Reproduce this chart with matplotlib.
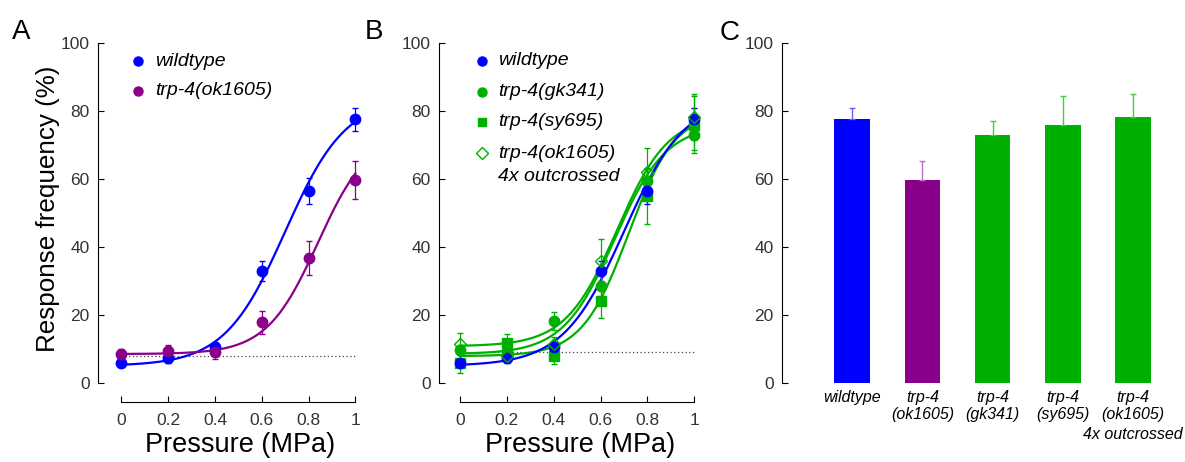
import numpy as np
import matplotlib.pyplot as plt
import matplotlib.transforms as mtransforms

plt.rcParams['font.family'] = ['Liberation Sans', 'DejaVu Sans']

# pressure steps (MPa)
pressure = [0, 0.2, 0.4, 0.6, 0.8, 1.0]

# response frequency (%) and SEM
wt = [5.8, 7.3, 10.5, 33.0, 56.5, 77.5]
wt_err = [1.0, 1.5, 1.5, 3.0, 3.8, 3.4]
ok1605 = [8.5, 9.3, 9.0, 17.8, 36.7, 59.7]
ok1605_err = [1.5, 1.8, 2.0, 3.5, 5.0, 5.7]
gk341 = [9.8, 9.5, 18.3, 28.5, 59.5, 72.8]
gk341_err = [1.5, 1.5, 2.7, 3.0, 3.5, 4.3]
sy695 = [6.0, 11.8, 8.0, 24.0, 55.0, 76.0]
sy695_err = [3.0, 2.5, 2.5, 4.8, 8.3, 8.5]
outx = [11.5, 8.0, 11.5, 36.0, 62.0, 78.2]
outx_err = [3.2, 1.5, 2.0, 6.3, 7.0, 6.7]

# sigmoid fit parameters: bottom, top, x50, slope
fit_wt = [5.0, 84.0, 0.70, 0.13]
fit_ok1605 = [8.5, 74.0, 0.84, 0.11]
fit_gk341 = [8.5, 76.0, 0.66, 0.11]
fit_sy695 = [7.9, 80.0, 0.72, 0.10]
fit_outx = [10.8, 79.0, 0.67, 0.11]

baseline_a = 7.8
baseline_b = 9.2

# panel C
bar_labels = ['wildtype', 'trp-4\n(ok1605)', 'trp-4\n(gk341)', 'trp-4\n(sy695)',
              'trp-4\n(ok1605)']
bar_note = '4x outcrossed'
bar_vals = [77.5, 59.7, 72.8, 76.0, 78.2]
bar_errs = [3.4, 5.7, 4.3, 8.5, 6.7]

BLUE = '#0000ff'
PURPLE = '#8b008b'
GREEN = '#00b000'


def sigmoid(x, p):
    b, t, x50, s = p
    return b + (t - b) / (1 + np.exp(-(x - x50) / s))


def style_axes(ax, bottom=True):
    ax.spines['top'].set_visible(False)
    ax.spines['right'].set_visible(False)
    ax.spines['left'].set_bounds(0, 100)
    ax.set_yticks([0, 20, 40, 60, 80, 100])
    ax.tick_params(axis='y', direction='in', length=4, labelsize=12.5,
                   labelcolor='#333333', pad=6)
    if bottom:
        ax.set_ylim(-5.6, 100)
        ax.spines['bottom'].set_bounds(0, 1)
        ax.set_xlim(-0.1, 1.02)
        ax.set_xticks([0, 0.2, 0.4, 0.6, 0.8, 1])
        ax.set_xticklabels(['0', '0.2', '0.4', '0.6', '0.8', '1'])
        ax.tick_params(axis='x', direction='in', length=4, labelsize=12.5,
                       labelcolor='#333333', pad=8)
        ax.set_xlabel('Pressure (MPa)', fontsize=19.5)
        ax.xaxis.set_label_coords(0.542, -0.085)


xs = np.linspace(0, 1, 200)
fig = plt.figure(figsize=(11.85, 4.62), dpi=100)

# ---- A ----
axA = fig.add_axes([0.0827, 0.1299, 0.2211, 0.777])
style_axes(axA)
axA.plot([0, 1], [baseline_a] * 2, ls=(0, (1, 2)), color='#444444', lw=0.9)
axA.plot(xs, sigmoid(xs, fit_wt), color=BLUE, lw=1.6)
axA.plot(xs, sigmoid(xs, fit_ok1605), color=PURPLE, lw=1.6)
axA.errorbar(pressure, wt, yerr=wt_err, fmt='o', color=BLUE, ms=7.5,
             elinewidth=0.9, capsize=2, clip_on=False)
axA.errorbar(pressure, ok1605, yerr=ok1605_err, fmt='o', color=PURPLE, ms=7.5,
             elinewidth=0.9, capsize=2, clip_on=False)
axA.set_ylabel('Response frequency (%)', fontsize=18.7)
axA.yaxis.set_label_coords(-0.145, 0.538)
axA.plot([0.073], [94.7], 'o', color=BLUE, ms=6.5)
axA.text(0.145, 94.7, 'wildtype', style='italic', fontsize=14, va='center')
axA.plot([0.073], [85.9], 'o', color=PURPLE, ms=6.5)
axA.text(0.145, 85.9, 'trp-4(ok1605)', style='italic', fontsize=14, va='center')
fig.text(0.010, 0.915, 'A', fontsize=20)

# ---- B ----
axB = fig.add_axes([0.3705, 0.1299, 0.2192, 0.777])
style_axes(axB)
axB.set_xlim(-0.09, 1.02)
axB.xaxis.set_label_coords(0.543, -0.085)
axB.plot([0, 1], [baseline_b] * 2, ls=(0, (1, 2)), color='#444444', lw=0.9)
for p in (fit_gk341, fit_sy695, fit_outx):
    axB.plot(xs, sigmoid(xs, p), color=GREEN, lw=1.6)
axB.plot(xs, sigmoid(xs, fit_wt), color=BLUE, lw=1.6)
axB.errorbar(pressure, sy695, yerr=sy695_err, fmt='s', color=GREEN, ms=6.5,
             elinewidth=0.9, capsize=2, clip_on=False)
axB.errorbar(pressure, gk341, yerr=gk341_err, fmt='o', color=GREEN, ms=7.5,
             elinewidth=0.9, capsize=2, clip_on=False)
axB.errorbar(pressure, wt, yerr=wt_err, fmt='o', color=BLUE, ms=7.5,
             elinewidth=0.9, capsize=2, clip_on=False)
axB.errorbar(pressure, outx, yerr=outx_err, fmt='D', color=GREEN, ms=6.5,
             mfc='none', mew=1.0, elinewidth=0.9, capsize=2, clip_on=False)
leg_y = [94.8, 85.7, 76.9, 67.6]
leg_m = [('o', BLUE, 'full'), ('o', GREEN, 'full'), ('s', GREEN, 'full'), ('D', GREEN, 'none')]
leg_t = ['wildtype', 'trp-4(gk341)', 'trp-4(sy695)', 'trp-4(ok1605)']
for y, (m, c, f), t in zip(leg_y, leg_m, leg_t):
    axB.plot([0.093], [y], m, color=c, ms=6.5 if m != 's' else 6,
             mfc=c if f == 'full' else 'none', mew=1.0)
    axB.text(0.162, y, t, style='italic', fontsize=14, va='center')
axB.text(0.162, 60.7, '4x outcrossed', style='italic', fontsize=14, va='center')
fig.text(0.308, 0.915, 'B', fontsize=20)

# ---- C ----
axC = fig.add_axes([0.66, 0.171, 0.3316, 0.736])
style_axes(axC, bottom=False)
axC.set_ylim(0, 100)
axC.spines['bottom'].set_visible(False)
axC.set_xlim(-1.0, 4.6)
bx = np.arange(len(bar_vals))
colors = [BLUE, PURPLE, GREEN, GREEN, GREEN]
err_colors = ['#6060ff', '#c070c0', '#40d040', '#40d040', '#40d040']
axC.bar(bx, bar_vals, width=0.51, color=colors)
for x, v, e, c in zip(bx, bar_vals, bar_errs, err_colors):
    axC.errorbar([x], [v], yerr=[[0], [e]], color=c, elinewidth=1.0, capsize=2.5, capthick=1.0)
axC.set_xticks(bx)
axC.set_xticklabels(bar_labels, style='italic', fontsize=11.5)
axC.tick_params(axis='x', length=0, pad=5)
trans = mtransforms.offset_copy(axC.get_xaxis_transform(), fig=fig, x=0, y=-44, units='dots')
axC.text(bx[-1], 0, bar_note, style='italic', fontsize=11.5, ha='center', va='top',
         transform=trans)
fig.text(0.607, 0.913, 'C', fontsize=20)

fig.savefig('out.png', dpi=100)
